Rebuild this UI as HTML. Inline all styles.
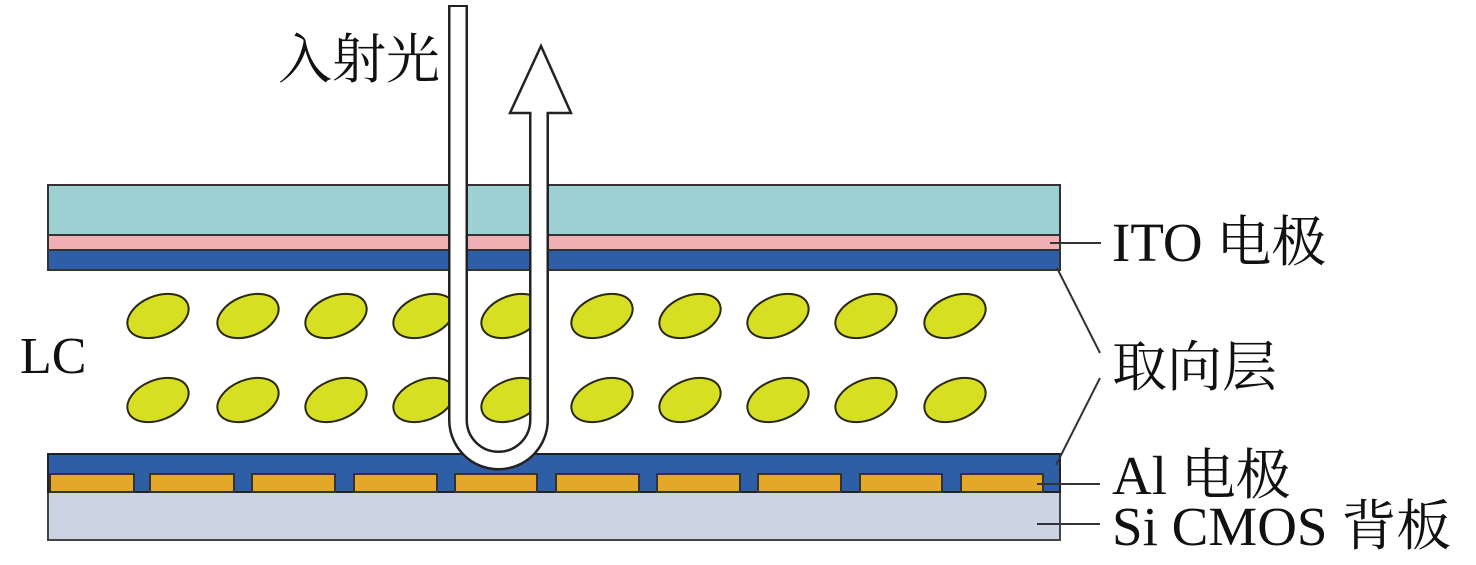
<!DOCTYPE html>
<html><head><meta charset="utf-8"><style>
html,body{margin:0;padding:0;background:#fff;}
svg{display:block;}
text{font-family:"Liberation Serif","Noto Serif CJK SC",serif;fill:#111;}
</style></head><body>
<svg width="1476" height="565" viewBox="0 0 1476 565" xmlns="http://www.w3.org/2000/svg">
<rect x="48" y="185" width="1012" height="50" fill="#9dd0d2" stroke="#333" stroke-width="2"/>
<rect x="48" y="235" width="1012" height="15" fill="#efb0b5" stroke="#333" stroke-width="2"/>
<rect x="48" y="250" width="1012" height="20" fill="#2e5fa6" stroke="#333" stroke-width="2"/>
<rect x="48" y="492" width="1012" height="48" fill="#ccd3e2" stroke="#444" stroke-width="2"/>
<rect x="48" y="454" width="1012" height="38" fill="#2e5fa6" stroke="#222" stroke-width="2"/>
<g fill="#e3a72a" stroke="#333" stroke-width="2">
<rect x="50" y="474" width="84" height="18"/>
<rect x="150" y="474" width="84" height="18"/>
<rect x="252" y="474" width="83" height="18"/>
<rect x="354" y="474" width="83" height="18"/>
<rect x="455" y="474" width="82" height="18"/>
<rect x="556" y="474" width="83" height="18"/>
<rect x="657" y="474" width="83" height="18"/>
<rect x="758" y="474" width="83" height="18"/>
<rect x="860" y="474" width="82" height="18"/>
<rect x="961" y="474" width="82" height="18"/>
</g>
<g fill="#d6df22" stroke="#2a2a10" stroke-width="2">
<ellipse cx="158" cy="316" rx="32" ry="20" transform="rotate(-22 158 316)"/>
<ellipse cx="248" cy="316" rx="32" ry="20" transform="rotate(-22 248 316)"/>
<ellipse cx="336" cy="316" rx="32" ry="20" transform="rotate(-22 336 316)"/>
<ellipse cx="424" cy="316" rx="32" ry="20" transform="rotate(-22 424 316)"/>
<ellipse cx="512" cy="316" rx="32" ry="20" transform="rotate(-22 512 316)"/>
<ellipse cx="602" cy="316" rx="32" ry="20" transform="rotate(-22 602 316)"/>
<ellipse cx="690" cy="316" rx="32" ry="20" transform="rotate(-22 690 316)"/>
<ellipse cx="778" cy="316" rx="32" ry="20" transform="rotate(-22 778 316)"/>
<ellipse cx="866" cy="316" rx="32" ry="20" transform="rotate(-22 866 316)"/>
<ellipse cx="955" cy="316" rx="32" ry="20" transform="rotate(-22 955 316)"/>
<ellipse cx="158" cy="400" rx="32" ry="20" transform="rotate(-22 158 400)"/>
<ellipse cx="248" cy="400" rx="32" ry="20" transform="rotate(-22 248 400)"/>
<ellipse cx="336" cy="400" rx="32" ry="20" transform="rotate(-22 336 400)"/>
<ellipse cx="424" cy="400" rx="32" ry="20" transform="rotate(-22 424 400)"/>
<ellipse cx="512" cy="400" rx="32" ry="20" transform="rotate(-22 512 400)"/>
<ellipse cx="602" cy="400" rx="32" ry="20" transform="rotate(-22 602 400)"/>
<ellipse cx="690" cy="400" rx="32" ry="20" transform="rotate(-22 690 400)"/>
<ellipse cx="778" cy="400" rx="32" ry="20" transform="rotate(-22 778 400)"/>
<ellipse cx="866" cy="400" rx="32" ry="20" transform="rotate(-22 866 400)"/>
<ellipse cx="955" cy="400" rx="32" ry="20" transform="rotate(-22 955 400)"/>
</g>
<polygon points="510,113 541,46 571,113" fill="#fff" stroke="#222" stroke-width="2.5"/>
<path d="M458 5 L458 420 A40.5 40.5 0 0 0 539 420 L539 112" fill="none" stroke="#222" stroke-width="20"/>
<path d="M458 7 L458 420 A40.5 40.5 0 0 0 539 420 L539 110" fill="none" stroke="#fff" stroke-width="15"/>
<g stroke="#333" stroke-width="2" fill="none">
<line x1="1050" y1="243" x2="1101" y2="243"/>
<line x1="1057" y1="268" x2="1100" y2="353"/>
<line x1="1100" y1="378" x2="1056" y2="465"/>
<line x1="1037" y1="484" x2="1100" y2="484"/>
<line x1="1037" y1="524" x2="1100" y2="524"/>
</g>
<text x="278" y="78" font-size="54">入射光</text>
<text x="20" y="373" font-size="52">LC</text>
<text x="1112" y="261" font-size="55">ITO 电极</text>
<text x="1112" y="386" font-size="55">取向层</text>
<text x="1112" y="494" font-size="55">Al 电极</text>
<text x="1112" y="545" font-size="55">Si CMOS 背板</text>
</svg>
</body></html>
